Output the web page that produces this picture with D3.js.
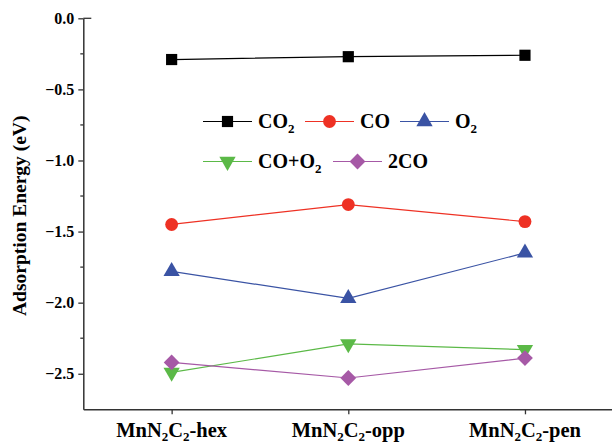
<!DOCTYPE html>
<html><head><meta charset="utf-8">
<script src="https://cdn.jsdelivr.net/npm/d3@7"></script>
<style>body{margin:0;background:#fff}svg{display:block}</style>
</head><body>
<script>
const categories = ["hex", "opp", "pen"];
const seriesNames = ["CO2", "CO", "O2", "CO+O2", "2CO"];
const CO2 = [-0.29, -0.27, -0.26];
const CO = [-1.45, -1.31, -1.43];
const O2 = [-1.78, -1.97, -1.65];
const COO2 = [-2.49, -2.29, -2.33];
const CO2x = [-2.42, -2.53, -2.39];
const yTicks = [0, -0.5, -1.0, -1.5, -2.0, -2.5];

const FONT = '"Liberation Serif", "Times New Roman", serif';
const W = 612, H = 445;
const svg = d3.select("body").append("svg").attr("width", W).attr("height", H);
const x = d3.scaleLinear().domain([0.5, 3.5]).range([83.3, 613.3]);
const y = d3.scaleLinear().domain([-2.75, 0]).range([409.3, 18.3]);

const series = [
  {name: "CO2", vals: CO2, color: "#000000", sym: d3.symbolSquare, size: 125, rot: 0},
  {name: "CO", vals: CO, color: "#ee3124", sym: d3.symbolCircle, size: 130, rot: 0},
  {name: "O2", vals: O2, color: "#3a53a4", sym: d3.symbolTriangle, size: 115, rot: 0},
  {name: "CO+O2", vals: COO2, color: "#5bb947", sym: d3.symbolTriangle, size: 115, rot: 180},
  {name: "2CO", vals: CO2x, color: "#a659a6", sym: d3.symbolSquare, size: 125, rot: 45}
];

function styleText(sel) { return sel.style("font-family", FONT).style("font-weight", "bold"); }

const yAxis = d3.axisLeft(y).tickValues(yTicks).tickFormat(d3.format(".1f")).tickSize(5).tickSizeOuter(0);
const gy = svg.append("g").attr("transform", `translate(${x(0.5)},0)`).call(yAxis);
styleText(gy.selectAll("text")).attr("font-size", 16).attr("fill", "#000").attr("dx", "-1");
const minorTicks = [-0.25, -0.75, -1.25, -1.75, -2.25];
gy.selectAll(".minor").data(minorTicks).enter().append("line")
  .attr("x1", 0).attr("x2", -3).attr("y1", d => y(d)).attr("y2", d => y(d)).attr("stroke", "#333").attr("stroke-width", 1.3);
gy.select(".domain").attr("stroke", "#333").attr("stroke-width", 1.5);
gy.selectAll(".tick line").attr("stroke", "#333").attr("stroke-width", 1.3);
svg.append("line").attr("x1", x(0.5)).attr("x2", x(0.5) + 8).attr("y1", y(0)).attr("y2", y(0)).attr("stroke", "#333").attr("stroke-width", 1.3);

const xAxis = d3.axisBottom(x).tickValues([1, 2, 3]).tickFormat("").tickSize(5).tickSizeOuter(0);
const gx = svg.append("g").attr("transform", `translate(0,${y(-2.75)})`).call(xAxis);
gx.select(".domain").attr("stroke", "#333").attr("stroke-width", 1.5);
gx.selectAll(".tick line").attr("stroke", "#333").attr("stroke-width", 1.3);

categories.forEach((c, i) => {
  const t = styleText(svg.append("text")).attr("x", x(i + 1)).attr("y", 437).attr("text-anchor", "middle")
    .attr("font-size", 20.5).attr("fill", "#000");
  t.append("tspan").text("MnN");
  t.append("tspan").text("2").attr("font-size", 13).attr("dy", 4);
  t.append("tspan").text("C").attr("dy", -4);
  t.append("tspan").text("2").attr("font-size", 13).attr("dy", 4);
  t.append("tspan").text("-" + c).attr("dy", -4);
});

styleText(svg.append("text")).attr("transform", `translate(26,${(y(0) + y(-2.75)) / 2 + 2}) rotate(-90)`)
  .attr("text-anchor", "middle").attr("font-size", 19.5)
  .attr("fill", "#000").text("Adsorption Energy (eV)");

const line = d3.line().x((d, i) => x(i + 1)).y(d => y(d));
series.forEach(s => {
  svg.append("path").datum(s.vals).attr("d", line).attr("fill", "none").attr("stroke", s.color).attr("stroke-width", 1.2);
});
series.forEach(s => {
  svg.selectAll(null).data(s.vals).enter().append("path")
    .attr("d", d3.symbol().type(s.sym).size(s.size))
    .attr("transform", (d, i) => `translate(${x(i + 1)},${y(d)}) rotate(${s.rot})`)
    .attr("fill", s.color);
});

const legendPos = [
  {lx: 203, ly: 121.5, label: [["CO"], ["2", true]]},
  {lx: 305, ly: 121.5, label: [["CO"]]},
  {lx: 400, ly: 121.5, label: [["O"], ["2", true]]},
  {lx: 203, ly: 161.5, label: [["CO+O"], ["2", true]]},
  {lx: 333, ly: 161.5, label: [["2CO"]]}
];
series.forEach((s, i) => {
  const p = legendPos[i];
  const g = svg.append("g");
  g.append("line").attr("x1", p.lx).attr("x2", p.lx + 49).attr("y1", p.ly).attr("y2", p.ly).attr("stroke", s.color).attr("stroke-width", 1.2);
  g.append("path").attr("d", d3.symbol().type(s.sym).size(s.size))
    .attr("transform", `translate(${p.lx + 24.5},${p.ly}) rotate(${s.rot})`).attr("fill", s.color);
  const t = styleText(g.append("text")).attr("x", p.lx + 55).attr("y", p.ly + 6.5)
    .attr("font-size", 20).attr("fill", "#000");
  p.label.forEach(([txt, sub]) => {
    if (sub) t.append("tspan").text(txt).attr("font-size", 13).attr("dy", 5);
    else t.append("tspan").text(txt);
  });
});
</script>
</body></html>
